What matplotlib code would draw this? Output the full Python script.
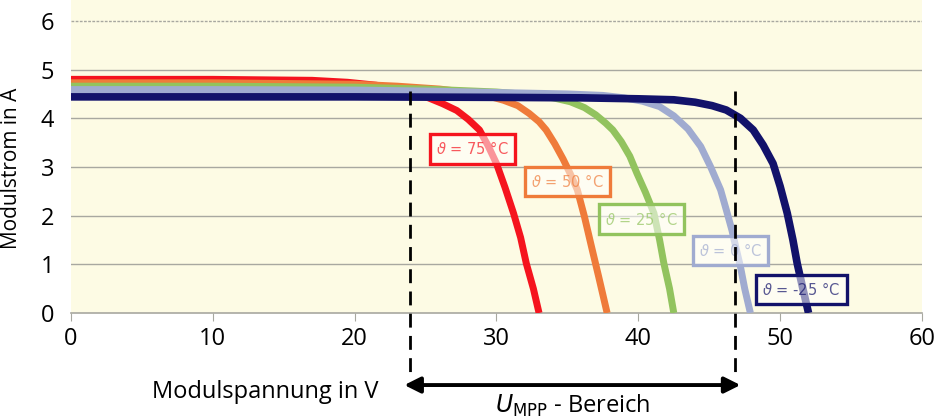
import matplotlib
matplotlib.use("Agg")
import matplotlib.pyplot as plt
from matplotlib.colors import to_rgba

plt.rcParams["font.family"] = ["Open Sans", "DejaVu Sans"]
plt.rcParams["mathtext.fontset"] = "dejavusans"

# ---- data (voltage in V, current in A) ----
v_75 = [0, 10, 17, 19.5, 21.5, 23, 24.2, 25.2, 26.2, 27.2, 28.0, 28.8, 29.4,
        30.0, 30.6, 31.2, 31.7, 32.1, 32.6, 33.0]
i_75 = [4.80, 4.80, 4.78, 4.74, 4.68, 4.61, 4.52, 4.42, 4.30, 4.16, 3.98, 3.76, 3.44,
        3.07, 2.58, 2.05, 1.55, 1.02, 0.50, 0.0]

v_50 = [0, 10, 20, 23, 26, 28, 29.5, 30.5, 31.5, 32.3, 33.0, 33.5, 34.1, 34.7,
        35.2, 35.7, 36.2, 36.7, 37.2, 37.8]
i_50 = [4.73, 4.73, 4.70, 4.66, 4.60, 4.53, 4.45, 4.37, 4.26, 4.10, 3.93, 3.76, 3.48, 3.16,
        2.86, 2.53, 1.98, 1.36, 0.75, 0.0]

v_25 = [0, 10, 20, 25, 30, 32.5, 34, 35.2, 36.2, 37.0, 37.7, 38.2, 38.8, 39.4,
        39.9, 40.5, 41.1, 41.5, 41.8, 42.2, 42.5]
i_25 = [4.66, 4.66, 4.64, 4.60, 4.54, 4.48, 4.42, 4.34, 4.22, 4.07, 3.90, 3.76, 3.52, 3.22,
        2.87, 2.48, 2.05, 1.50, 1.02, 0.50, 0.0]

v_0 = [0, 10, 20, 25, 30, 35, 37.5, 39, 40.3, 41.5, 42.5, 43.5, 44.4, 45.1,
       45.8, 46.2, 46.6, 46.9, 47.2, 47.5, 47.9]
i_0 = [4.59, 4.59, 4.58, 4.56, 4.53, 4.50, 4.47, 4.42, 4.35, 4.24, 4.05, 3.78, 3.42, 3.00,
       2.53, 2.12, 1.70, 1.32, 0.95, 0.50, 0.0]

v_m25 = [0, 10, 20, 30, 36, 40, 42.5, 44.0, 45.2, 46.2, 47.2, 48.1, 48.8, 49.5,
         50.0, 50.5, 50.9, 51.2, 51.6, 52.0]
i_m25 = [4.44, 4.44, 4.44, 4.43, 4.42, 4.40, 4.38, 4.33, 4.26, 4.17, 4.00, 3.76, 3.45, 3.07,
         2.60, 2.05, 1.50, 1.02, 0.50, 0.0]

labels = [r"$\vartheta$ = 75 °C", r"$\vartheta$ = 50 °C", r"$\vartheta$ = 25 °C",
          r"$\vartheta$ = 0 °C", r"$\vartheta$ = -25 °C"]
label_pos = [(28.3, 3.37), (35.0, 2.70), (40.2, 1.93), (46.5, 1.29), (51.5, 0.49)]
mpp_range = [23.9, 46.8]

RED    = "#f5141e"
ORANGE = "#ef7b3a"
GREEN  = "#92c35e"
LBLUE  = "#a0abd0"
NAVY   = "#12126a"
BG     = "#fdfbe4"
GRID   = "#a8a8a0"

curves = [(v_75, i_75, RED, 5.0), (v_50, i_50, ORANGE, 5.0), (v_25, i_25, GREEN, 5.0),
          (v_0, i_0, LBLUE, 5.0), (v_m25, i_m25, NAVY, 5.5)]

fig = plt.figure(figsize=(9.45, 4.18), dpi=100)
ax = fig.add_axes([71 / 945, 105 / 418, 851 / 945, 313 / 418])
ax.set_facecolor(BG)

ax.set_xlim(0, 60)
ax.set_ylim(0, 6.43)
ax.set_xticks(range(0, 61, 10))
ax.set_yticks(range(0, 7))
for y in range(1, 6):
    ax.axhline(y, color=GRID, lw=1.0, zorder=1)
ax.axhline(6, color=GRID, lw=1.0, ls=(0, (2, 1)), zorder=1)

for v, i, col, lw in curves:
    ax.plot(v, i, color=col, lw=lw, solid_capstyle="butt", solid_joinstyle="round", zorder=3)

# temperature labels
for (x, y), txt, (_, _, col, _) in zip(label_pos, labels, curves):
    ax.text(x, y, txt, ha="center", va="center", fontsize=10.5,
            family=["DejaVu Sans"], color=to_rgba(col, 0.7), zorder=5,
            bbox=dict(boxstyle="square,pad=0.42", facecolor=(1, 1, 1, 0.55),
                      edgecolor=col, linewidth=2.4))

# MPP range markers
for xv in mpp_range:
    ax.plot([xv, xv], [4.56, -1.23], color="black", lw=2.0, dashes=(5, 3),
            clip_on=False, zorder=6)
ax.annotate("", xy=(mpp_range[0] - 0.4, -1.48), xytext=(mpp_range[1] + 0.4, -1.48),
            xycoords="data", annotation_clip=False,
            arrowprops=dict(arrowstyle="<|-|>", color="black", lw=2.8,
                            mutation_scale=24, shrinkA=0, shrinkB=0))
ax.text(sum(mpp_range) / 2, -1.9, r"$\mathit{U}_{\mathrm{MPP}}$ - Bereich", ha="center",
        va="center", fontsize=17, clip_on=False)

for side in ["top", "right", "left"]:
    ax.spines[side].set_visible(False)
ax.spines["bottom"].set_color(GRID)
ax.spines["bottom"].set_linewidth(1.2)

ax.tick_params(axis="x", length=6, color=GRID, labelsize=17, pad=4)
ax.tick_params(axis="y", length=0, labelsize=17, pad=12)

ax.set_xlabel("Modulspannung in V", fontsize=17)
ax.xaxis.set_label_coords(0.228, -0.215)
ax.set_ylabel("Modulstrom in A", fontsize=15)
ax.yaxis.set_label_coords(-0.058, 0.463)

fig.savefig("out.png", dpi=100, facecolor="white")
